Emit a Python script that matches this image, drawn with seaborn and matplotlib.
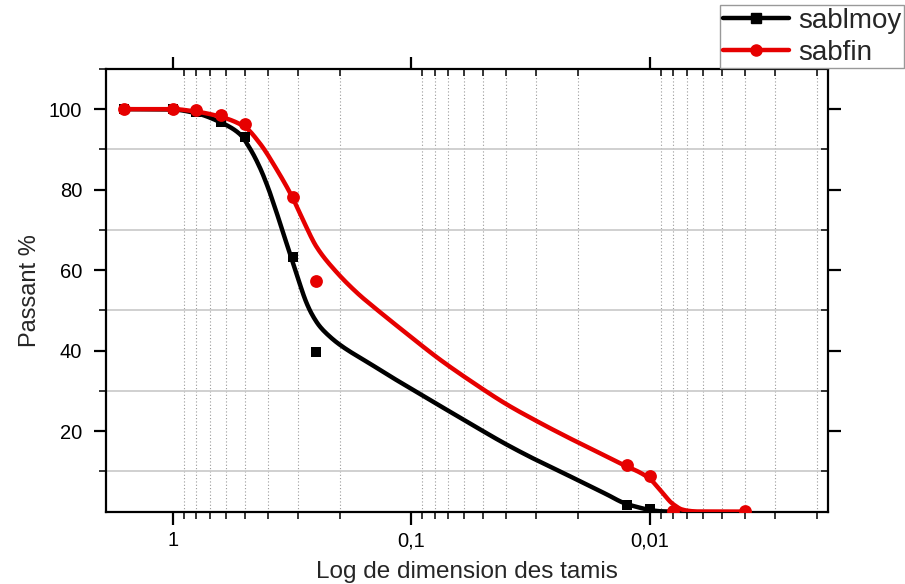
import numpy as np
import pandas as pd
import matplotlib
matplotlib.use("Agg")
import matplotlib.pyplot as plt
import seaborn as sns
from matplotlib.lines import Line2D
from matplotlib.ticker import FixedLocator, FuncFormatter, LogLocator, MultipleLocator

# measured points (sieve size, % passing)
moy_size = [1.6, 1.0, 0.8, 0.63, 0.5, 0.315, 0.25, 0.0125, 0.01]
moy_pass = [100, 100, 99.3, 96.8, 93.0, 63.3, 39.7, 1.6, 0.6]
fin_size = [1.6, 1.0, 0.8, 0.63, 0.5, 0.315, 0.25, 0.0125, 0.01, 0.008, 0.004]
fin_pass = [100, 100, 99.7, 98.6, 96.3, 78.2, 57.3, 11.6, 8.8, 0.2, 0.1]

# fitted curves
moy_curve_x = [1.6, 1.0, 0.8, 0.635, 0.524, 0.475, 0.432, 0.398, 0.367, 0.345,
               0.325, 0.303, 0.275, 0.26, 0.242, 0.22, 0.2, 0.145, 0.105, 0.076,
               0.055, 0.04, 0.029, 0.021, 0.0152, 0.0128, 0.011, 0.01, 0.009,
               0.008, 0.007]
moy_curve_y = [100, 99.9, 99.0, 96.8, 93.8, 90.2, 85.5, 80.3, 74.2, 69.3,
               64.5, 59.0, 51.8, 48.8, 46.0, 43.5, 41.5, 36.3, 31.2, 26.3,
               21.4, 16.7, 12.4, 8.4, 4.3, 2.1, 0.95, 0.4, 0.08,
               0.0, 0.0]
fin_curve_x = [1.6, 1.0, 0.8, 0.63, 0.5, 0.432, 0.367, 0.315, 0.284, 0.25, 0.206,
               0.165, 0.145, 0.105, 0.076, 0.055, 0.04, 0.029, 0.021, 0.0152,
               0.0127, 0.011, 0.0102, 0.0096, 0.0091, 0.0086, 0.0082, 0.0078,
               0.0074, 0.007, 0.0065, 0.006, 0.004]
fin_curve_y = [100, 100, 99.4, 98.1, 95.6, 91.5, 85.0, 78.0, 72.3, 65.8, 59.5,
               53.8, 51.0, 44.3, 37.8, 32.0, 26.7, 22.1, 17.8, 13.7,
               11.4, 9.7, 8.5, 7.1, 5.5, 3.8, 2.4, 1.4,
               0.6, 0.25, 0.05, 0.0, 0.0]

x_major = [1, 0.1, 0.01]
y_major = [20, 40, 60, 80, 100]

RED = "#e60000"


def smooth(xs, ys, n=600):
    # monotone cubic (Fritsch-Carlson) through the read points, in log-x
    t = np.log10(np.asarray(xs, float))[::-1]
    y = np.asarray(ys, float)[::-1]
    h = np.diff(t)
    d = np.diff(y) / h
    m = np.zeros_like(y)
    m[0], m[-1] = d[0], d[-1]
    for k in range(1, len(y) - 1):
        if d[k - 1] * d[k] <= 0:
            m[k] = 0
        else:
            w1 = 2 * h[k] + h[k - 1]
            w2 = h[k] + 2 * h[k - 1]
            m[k] = (w1 + w2) / (w1 / d[k - 1] + w2 / d[k])
    tt = np.linspace(t[0], t[-1], n)
    idx = np.clip(np.searchsorted(t, tt) - 1, 0, len(t) - 2)
    hk = h[idx]
    s = (tt - t[idx]) / hk
    yy = ((2 * s**3 - 3 * s**2 + 1) * y[idx] + (s**3 - 2 * s**2 + s) * hk * m[idx]
          + (-2 * s**3 + 3 * s**2) * y[idx + 1] + (s**3 - s**2) * hk * m[idx + 1])
    return pd.DataFrame({"x": 10**tt, "y": yy})


sns.set_style("ticks")
plt.rcParams["font.family"] = ["Liberation Sans", "DejaVu Sans"]

fig = plt.figure(figsize=(9.05, 5.84), dpi=100)
ax = fig.add_axes([0.117, 0.124, 0.798, 0.758])

sns.lineplot(data=smooth(moy_curve_x, moy_curve_y), x="x", y="y", sort=False,
             color="black", lw=3.2, ax=ax, zorder=3)
sns.lineplot(data=smooth(fin_curve_x, fin_curve_y), x="x", y="y", sort=False,
             color=RED, lw=3.2, ax=ax, zorder=4)
sns.scatterplot(x=moy_size, y=moy_pass, marker="s", s=60, color="black",
                linewidth=0, ax=ax, zorder=5)
sns.scatterplot(x=fin_size, y=fin_pass, marker="o", s=85, color=RED,
                linewidth=0, ax=ax, zorder=6)

ax.set_xscale("log")
ax.set_xlim(1.91, 0.00179)
ax.set_ylim(0, 110)

ax.xaxis.set_major_locator(FixedLocator(x_major))
ax.xaxis.set_major_formatter(FuncFormatter(lambda v, p: ("%g" % v).replace(".", ",")))
ax.xaxis.set_minor_locator(LogLocator(base=10, subs=np.arange(2, 10)))
ax.xaxis.set_minor_formatter(FuncFormatter(lambda v, p: ""))
ax.yaxis.set_major_locator(FixedLocator(y_major))
ax.yaxis.set_minor_locator(MultipleLocator(20, offset=10))

ax.grid(False)
ax.grid(which="minor", axis="x", color="#9a9a9a", ls=(0, (1, 2)), lw=0.8)
ax.grid(which="minor", axis="y", color="#c8c8c8", ls="-", lw=1.2)

for s in ax.spines.values():
    s.set_linewidth(1.6)
    s.set_color("black")

ax.tick_params(which="major", length=9, width=1.6, labelsize=14.5, colors="black")
ax.tick_params(which="minor", length=5, width=1.3)
ax.tick_params(which="both", bottom=True, left=True, top=True, right=True,
               direction="out")
# ticks on top and right point inward
for t in ax.xaxis.get_major_ticks() + ax.xaxis.get_minor_ticks():
    t.tick2line.set_marker(3)
for t in ax.yaxis.get_major_ticks() + ax.yaxis.get_minor_ticks():
    t.tick2line.set_marker(0)
ax.tick_params(axis="x", pad=5)
ax.tick_params(axis="y", pad=8)

ax.set_xlabel("Log de dimension des tamis", fontsize=17.5, labelpad=8)
ax.set_ylabel("Passant %", fontsize=17, labelpad=6)

handles = [
    Line2D([], [], color="black", lw=3.2, marker="s", ms=7),
    Line2D([], [], color=RED, lw=3.2, marker="o", ms=8),
]
fig.legend(handles, ["sablmoy", "sabfin"], loc="upper left",
           bbox_to_anchor=(0.7956, 0.991), fontsize=20, frameon=True,
           fancybox=False, edgecolor="#999999", framealpha=1,
           handlelength=2.4, handletextpad=0.3, borderpad=0.1,
           labelspacing=0.2, borderaxespad=0)

fig.savefig("out.png", dpi=100)
